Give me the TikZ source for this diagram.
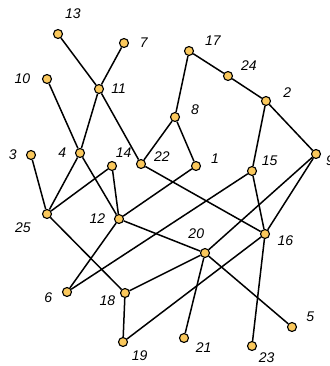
\documentclass[tikz,border=0pt]{standalone}
\usepackage{fontspec}
\setsansfont{Liberation Sans}
\usetikzlibrary{positioning}
\definecolor{vfill}{RGB}{250,200,92}

\begin{document}
\begin{tikzpicture}[
  x=1pt, y=-1pt,
  every node/.style={font=\sffamily\itshape\fontsize{14}{16}\selectfont},
  vtx/.style  = {circle, draw=black, line width=1.1pt, fill=vfill, inner sep=0pt, minimum size=9pt},
  lbl/.style  = {inner sep=0pt},
  edge/.style = {line width=1.5pt, black},
]
  \useasboundingbox (0,0) rectangle (329,366);
  % vertices: name/x/y/label angle/label distance
  \foreach \n/\x/\y/\a/\d in {
      13/58/34/66/12, 7/124/43/0/10.5, 10/47/79/178/11.5, 11/99/89/0/7,
      3/31/155/180/9, 4/80/153/180/8.5, 14/112/166/66/4, 22/141/164/11/8,
      17/189/51/17/11.5, 24/228/76/24/9, 2/266/101/11/12.5, 8/175/117/9/11,
      1/196/166/9/10, 9/316/154/-9/5, 15/252/171/28/6,
      25/47/214/207/13, 12/119/219/180/8.5, 6/67/292/183/9.5, 18/125/293/197/5,
      19/123/342/-44/7, 16/265/234/-6/7.5, 20/205/253/93/9.5, 21/184/338/-22/7.5,
      5/292/327/20/10, 23/252/346/-45/4.5}
    \node[vtx, label={[lbl, label distance=\d pt]\a:\n}] (n\n) at (\x,\y) {};
  \foreach \a/\b in {13/11, 7/11, 10/4, 11/4, 11/22, 3/25, 4/25, 4/12, 14/25, 14/12,
      22/8, 22/16, 17/8, 17/24, 24/2, 8/1, 1/12, 2/15, 2/9, 15/6, 15/16,
      9/20, 9/16, 12/6, 12/20, 20/5, 20/21, 25/18, 18/20, 18/19, 19/16, 16/23}
    \draw[edge] (n\a) -- (n\b);
\end{tikzpicture}
\end{document}
